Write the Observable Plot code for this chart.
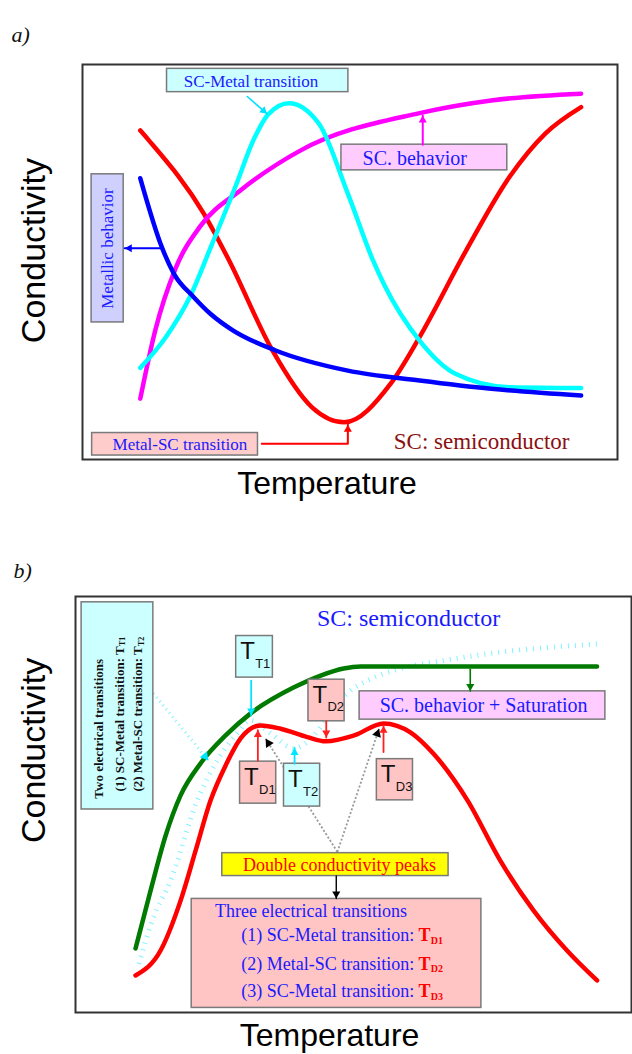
<!DOCTYPE html>
<html>
<head>
<meta charset="utf-8">
<script src="https://cdn.jsdelivr.net/npm/d3@7"></script>
<script src="https://cdn.jsdelivr.net/npm/@observablehq/plot@0.6"></script>
<style>
  body { margin: 0; background: #fff; }
  #chart { width: 632px; }
  #chart svg { display: block; }
</style>
</head>
<body>
<div id="chart"></div>
<script>
// ---------- Panel a: four conductivity behaviours (temperature, conductivity; arbitrary units 0–100)
const metalScA   = [[10.8,83.3],[12.4,80.8],[22.7,62.2],[27.4,50.4],[35.5,27.6],[42.9,13.2],[48.9,9.4],[57.6,19.2],[63.0,31.0],[71.7,52.9],[79.8,71.5],[86.5,82.5],[93.2,89.2]];
const metallicA  = [[10.8,71.2],[14.9,53.5],[17.1,47.0],[20.8,41.1],[23.9,36.9],[28.1,32.7],[36.1,27.6],[49.6,22.5],[63.0,20.0],[76.4,17.9],[93.2,16.2]];
const scMetalA   = [[10.8,23.2],[15.6,31.0],[20.2,41.5],[23.9,53.5],[28.7,69.5],[32.0,81.0],[34.8,87.5],[38.6,90.2],[44.2,85.0],[49.6,67.3],[54.3,50.4],[56.3,44.5],[63.0,30.1],[69.7,21.7],[79.8,18.3],[93.2,18.1]];
const scBehaveA  = [[10.8,15.4],[13.6,32.7],[17.4,48.4],[22.1,59.2],[29.5,68.1],[40.7,78.2],[63.0,87.7],[76.4,90.9],[93.2,92.6]];

// annotation boxes and leaders of panel a
const boxScMetalA  = {x1: 15.8, x2: 49.7, y1: 93.0, y2: 98.9, label: "SC-Metal transition", tx: 31.5, ty: 95.8};
const boxScBehA    = {x1: 48.4, x2: 79.4, y1: 73.2, y2: 79.7, label: "SC. behavior", tx: 62.1, ty: 76.1};
const boxMetallicA = {x1: 1.7,  x2: 7.7,  y1: 34.7, y2: 72.2, label: "Metallic behavior", tx: 4.7, ty: 53.4};
const boxMetalScA  = {x1: 1.8,  x2: 32.8, y1: 1.0,  y2: 6.7,  label: "Metal-SC transition", tx: 18.2, ty: 3.9};
const leaderCyanA    = [[30.8,91.9],[34.5,87.5]];
const leaderMagentaA = [[63.6,79.7],[63.6,87.1]];
const leaderBlueA    = [[14.9,53.5],[7.9,53.5]];
const leaderRedA     = [[33.5,4.0],[49.6,4.0],[49.6,8.8]];

// ---------- Panel b: double conductivity peaks
const saturB = [[10.8,15.4],[13.5,29.3],[16.2,42.5],[18.9,52.2],[22.5,59.9],[27.0,66.6],[31.5,71.9],[39.2,78.1],[44.1,81.0],[48.2,82.7],[51.3,83.2],[58.5,83.2],[93.8,83.2]];
const doublePeakB = [[10.8,8.9],[15.3,14.9],[18.9,26.9],[21.6,38.9],[24.3,51.0],[27.0,59.4],[29.7,65.9],[33.3,69.0],[36.9,68.2],[41.7,66.2],[45.0,65.2],[50.1,66.6],[55.4,69.5],[60.3,67.3],[64.4,62.2],[70.5,51.0],[76.4,36.5],[82.4,24.5],[88.4,14.9],[93.8,7.7]];
const twoTransB = [[11.4,11.7],[13.8,22.1],[17.1,31.7],[21.9,51.0],[25.5,60.6],[28.8,66.6],[31.5,70.2],[35.1,67.1],[39.3,63.5],[42.9,66.6],[46.4,73.3],[49.5,77.4],[52.5,79.8],[58.5,82.7],[66.2,84.6],[76.4,86.6],[93.8,88.6]];

// transition temperature markers: box extent and the point each one marks
const tBoxesB = [
  {main: "T", sub: "T1", kind: "T", x1: 28.9, x2: 35.5, y1: 80.5, y2: 90.5, from: [31.6,79.8], to: [31.6,71.4]},
  {main: "T", sub: "T2", kind: "T", x1: 37.5, x2: 44.0, y1: 49.5, y2: 59.8, from: [39.4,59.8], to: [39.4,63.6]},
  {main: "T", sub: "D1", kind: "D", x1: 29.6, x2: 36.1, y1: 50.2, y2: 60.3, from: [32.8,60.6], to: [32.8,67.9]},
  {main: "T", sub: "D2", kind: "D", x1: 41.9, x2: 48.4, y1: 70.0, y2: 80.0, from: [45.1,70.0], to: [45.1,66.1]},
  {main: "T", sub: "D3", kind: "D", x1: 54.2, x2: 60.7, y1: 51.0, y2: 60.9, from: [55.4,62.6], to: [55.4,68.9]}
];

const boxTwoB    = {x1: 1.1,  x2: 14.0, y1: 48.8, y2: 98.6};
const boxSatB    = {x1: 51.1, x2: 95.3, y1: 70.4, y2: 77.2, label: "SC. behavior + Saturation", tx: 73.4, ty: 73.8};
const boxPeaksB  = {x1: 26.4, x2: 67.1, y1: 32.8, y2: 38.3, label: "Double conductivity peaks", tx: 47.5, ty: 35.3};
const boxThreeB  = {x1: 20.9, x2: 73.0, y1: 1.1,  y2: 27.3};

const twoLines = [
  {text: "Two electrical transitions", x: 4.2, y: 51.4, sub: ""},
  {text: "(1) SC-Metal transition: T", x: 7.9, y: 53.1, sub: "T1"},
  {text: "(2) Metal-SC transition: T", x: 11.3, y: 53.1, sub: "T2"}
];
const threeHeading = "Three electrical transitions";
const threeLines = [
  {text: "(1) SC-Metal transition:", sub: "D1", y: 18.5},
  {text: "(2) Metal-SC transition:", sub: "D2", y: 11.7},
  {text: "(3) SC-Metal transition:", sub: "D3", y: 5.1}
];
const leaderTwoB   = [[14.0,76.7],[23.9,60.6]];
const leaderSatB   = [[71.0,82.5],[71.0,77.3]];
const leaderPeaksB = [[[47.1,38.6],[34.2,65.8]], [[47.1,38.6],[54.6,68.2]]];
const leaderDownB  = [[46.9,32.8],[46.9,27.4]];

// ---------- drawing helpers
const W = 632, H = 527;
const SERIF = "Liberation Serif", SANS = "Liberation Sans";
const BLUE = "#1a1aff";
const pts = (arr) => arr.map(([x, y]) => ({x, y}));

// straight leader(s) ending in a filled triangular head
function arrows(paths, k, color, o = {}) {
  const r = o.r ?? 3;
  const back = 2 * Math.sqrt(Math.PI * r * r / (3 * Math.sqrt(3)));
  const rows = paths.flatMap((p, i) => p.map(([x, y]) => ({i, x, y})));
  const heads = paths.map(p => {
    const [x0, y0] = p[p.length - 2], [x1, y1] = p[p.length - 1];
    const dxp = (x1 - x0) * k.x, dyp = -(y1 - y0) * k.y;
    const len = Math.hypot(dxp, dyp);
    return {x: x1 - dxp / len * back / k.x, y: y1 + dyp / len * back / k.y,
            angle: Math.atan2(dxp, -dyp) * 180 / Math.PI};
  });
  return [
    Plot.line(rows, {x: "x", y: "y", z: "i", stroke: color, strokeWidth: o.width ?? 1.6,
                     strokeDasharray: o.dash, strokeLinecap: o.dash ? "butt" : "round",
                     strokeOpacity: o.opacity ?? 1, curve: "linear"}),
    Plot.dot(heads, {x: "x", y: "y", symbol: "triangle", r, fill: o.head ?? color, stroke: "none", rotate: "angle"})
  ];
}
const box = (b, fill) => Plot.rect([b], {x1: "x1", x2: "x2", y1: "y1", y2: "y2", fill, stroke: "#7a7a7a", strokeWidth: 1.5});
const curve = (arr, stroke, extra = {}) => Plot.line(pts(arr), {x: "x", y: "y", stroke, strokeWidth: 4.5, curve: "monotone-x", ...extra});

// ---------- panel a
const mA = {top: 64, bottom: 68, left: 82, right: 15};
const kA = {x: (W - mA.left - mA.right) / 100, y: (H - mA.top - mA.bottom) / 100};

const plotA = Plot.plot({
  width: W, height: H,
  marginTop: mA.top, marginBottom: mA.bottom, marginLeft: mA.left, marginRight: mA.right,
  x: {domain: [0, 100], axis: null},
  y: {domain: [0, 100], axis: null},
  marks: [
    curve(metalScA, "#ff0000"),
    curve(scBehaveA, "#ff00ff"),
    curve(scMetalA, "#00ffff"),
    curve(metallicA, "#0000ff"),
    box(boxScMetalA, "#ccffff"),
    box(boxScBehA, "#ffccff"),
    box(boxMetallicA, "#d0d0ff"),
    box(boxMetalScA, "#ffcccc"),
    ...arrows([leaderCyanA], kA, "#00e0ff"),
    ...arrows([leaderMagentaA], kA, "#ff00ff", {width: 2}),
    ...arrows([leaderBlueA], kA, "#0000ff", {width: 2}),
    ...arrows([leaderRedA], kA, "#ff0000", {width: 2}),
    Plot.text([boxScMetalA], {x: "tx", y: "ty", text: "label", fontFamily: SERIF, fontSize: 17, fill: BLUE}),
    Plot.text([boxScBehA], {x: "tx", y: "ty", text: "label", fontFamily: SERIF, fontSize: 20, fill: BLUE}),
    Plot.text([boxMetallicA], {x: "tx", y: "ty", text: "label", rotate: -90, fontFamily: SERIF, fontSize: 17, fill: BLUE}),
    Plot.text([boxMetalScA], {x: "tx", y: "ty", text: "label", fontFamily: SERIF, fontSize: 17, fill: BLUE}),
    Plot.text(["SC: semiconductor"], {x: 74.6, y: 4.4, fontFamily: SERIF, fontSize: 23, fill: "#8b1010"}),
    Plot.frame({stroke: "#333", strokeWidth: 2}),
    Plot.text(["a)"], {frameAnchor: "top-left", dx: -71, dy: -38, textAnchor: "start", fontFamily: SERIF, fontStyle: "italic", fontSize: 22, fill: "#111"}),
    Plot.text(["Conductivity"], {frameAnchor: "left", y: 52.9, dx: -48, rotate: -90, textAnchor: "middle", lineAnchor: "middle", fontFamily: SANS, fontSize: 34, fill: "#000"}),
    Plot.text(["Temperature"], {frameAnchor: "bottom", dx: -23, dy: 24, lineAnchor: "middle", fontFamily: SANS, fontSize: 32, fill: "#000"})
  ]
});

// ---------- panel b
const mB = {top: 69, bottom: 42, left: 75, right: 1};
const kB = {x: (W - mB.left - mB.right) / 100, y: (H - mB.top - mB.bottom) / 100};
const tb = tBoxesB.map(d => ({...d,
  tx: d.x1 + 4 / kB.x,  ty: d.y1 + 0.63 * (d.y2 - d.y1),
  sx: d.x1 + 19 / kB.x, sy: d.y1 + 0.34 * (d.y2 - d.y1)}));
const tbT = tb.filter(d => d.kind === "T"), tbD = tb.filter(d => d.kind === "D");
const subDx = 3 / kB.x;               // subscripts sit slightly lower in the rotated lines
const subY = 53.1 + 145.5 / kB.y;     // end of the rotated "…: T" strings

const plotB = Plot.plot({
  width: W, height: H,
  marginTop: mB.top, marginBottom: mB.bottom, marginLeft: mB.left, marginRight: mB.right,
  x: {domain: [0, 100], axis: null},
  y: {domain: [0, 100], axis: null},
  marks: [
    curve(twoTransB, "#00e5ff", {strokeWidth: 5, strokeDasharray: "1,6", strokeLinecap: "butt", strokeOpacity: 0.5}),
    curve(saturB, "#007a00"),
    curve(doublePeakB, "#ff0000"),
    ...arrows(leaderPeaksB, kB, "#999", {dash: "2,2", width: 1.8, head: "#000", r: 3.4}),
    ...arrows([leaderTwoB], kB, "#00e5ff", {dash: "1,4", width: 3, opacity: 0.5, head: "#00e5ff", r: 3.4}),
    box(boxTwoB, "#ccffff"),
    box(boxSatB, "#ffccff"),
    box(boxPeaksB, "#ffff00"),
    box(boxThreeB, "#ffc4c4"),
    Plot.rect(tbT, {x1: "x1", x2: "x2", y1: "y1", y2: "y2", fill: "#ccffff", stroke: "#7a7a7a", strokeWidth: 1.5}),
    Plot.rect(tbD, {x1: "x1", x2: "x2", y1: "y1", y2: "y2", fill: "#ffc4c4", stroke: "#7a7a7a", strokeWidth: 1.5}),
    ...arrows(tbT.map(d => [d.from, d.to]), kB, "#00e5ff", {width: 1.8}),
    ...arrows(tbD.map(d => [d.from, d.to]), kB, "#ff2020", {width: 1.8}),
    ...arrows([leaderSatB], kB, "#007a00", {width: 1.6}),
    ...arrows([leaderDownB], kB, "#000", {width: 1.4}),
    Plot.text(tb, {x: "tx", y: "ty", text: "main", textAnchor: "start", fontFamily: SANS, fontSize: 24, fill: "#111"}),
    Plot.text(tb, {x: "sx", y: "sy", text: "sub", textAnchor: "start", fontFamily: SANS, fontSize: 13, fill: "#111"}),
    Plot.text(["SC: semiconductor"], {x: 59.9, y: 94.7, fontFamily: SERIF, fontSize: 24, fill: BLUE}),
    Plot.text([boxSatB], {x: "tx", y: "ty", text: "label", fontFamily: SERIF, fontSize: 20, fill: BLUE}),
    Plot.text([boxPeaksB], {x: "tx", y: "ty", text: "label", fontFamily: SERIF, fontSize: 18, fill: "#ff0000"}),
    Plot.text(twoLines, {x: "x", y: "y", text: "text", rotate: -90, textAnchor: "start", fontFamily: SERIF, fontWeight: "bold", fontSize: 13, fill: "#111"}),
    Plot.text(twoLines.filter(d => d.sub), {x: d => d.x + subDx, y: subY, text: "sub", rotate: -90, textAnchor: "start", fontFamily: SERIF, fontWeight: "bold", fontSize: 8, fill: "#111"}),
    Plot.text([threeHeading], {x: 25.1, y: 24.3, textAnchor: "start", fontFamily: SERIF, fontSize: 18, fill: BLUE}),
    Plot.text(threeLines, {x: 29.8, y: "y", text: "text", textAnchor: "start", fontFamily: SERIF, fontSize: 18, fill: BLUE}),
    Plot.text(threeLines, {x: 61.7, y: "y", text: () => "T", textAnchor: "start", fontFamily: SERIF, fontWeight: "bold", fontSize: 18, fill: "#ff0000"}),
    Plot.text(threeLines, {x: 63.9, y: d => d.y - 1.3, text: "sub", textAnchor: "start", fontFamily: SERIF, fontWeight: "bold", fontSize: 10, fill: "#ff0000"}),
    Plot.frame({stroke: "#333", strokeWidth: 2}),
    Plot.text(["b)"], {frameAnchor: "top-left", dx: -62, dy: -34, textAnchor: "start", fontFamily: SERIF, fontStyle: "italic", fontSize: 22, fill: "#111"}),
    Plot.text(["Conductivity"], {frameAnchor: "left", y: 63.0, dx: -41, rotate: -90, textAnchor: "middle", lineAnchor: "middle", fontFamily: SANS, fontSize: 34, fill: "#000"}),
    Plot.text(["Temperature"], {frameAnchor: "bottom", dx: -24, dy: 23, lineAnchor: "middle", fontFamily: SANS, fontSize: 32, fill: "#000"})
  ]
});

const chart = document.getElementById("chart");
chart.append(plotA, plotB);
</script>
</body>
</html>
